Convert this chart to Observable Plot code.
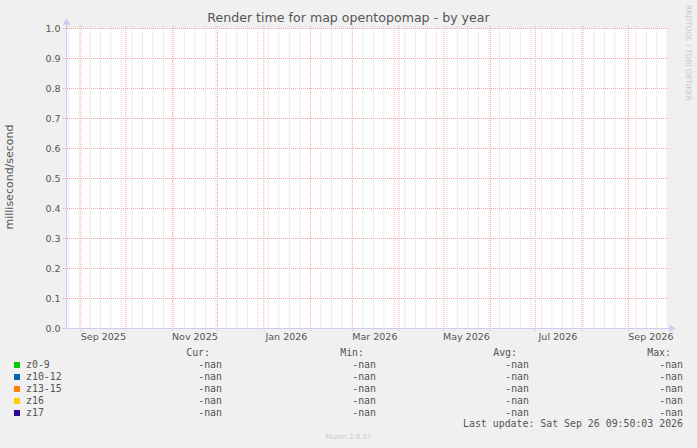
<!DOCTYPE html>
<html>
<head>
<meta charset="utf-8">
<script src="https://cdn.jsdelivr.net/npm/d3@7"></script>
<script src="https://cdn.jsdelivr.net/npm/@observablehq/plot@0.6"></script>
<style>
  html, body { margin: 0; padding: 0; background: #f0f0f0; }
  #wrap { position: relative; width: 697px; height: 448px; background: #f0f0f0; overflow: hidden; font-family: "DejaVu Sans", sans-serif; color: #555; }
  #chart { position: absolute; left: 0; top: 0; }
  .abs { position: absolute; white-space: pre; }
  .mono { font-family: "DejaVu Sans Mono", monospace; font-size: 9.9px; line-height: 12px; color: #555; }
</style>
</head>
<body>
<div id="wrap"></div>
<script>
// ---- data ----
const title = "Render time for map opentopomap - by year";
const yLabel = "millisecond/second";
const seriesNames = ["z0-9", "z10-12", "z13-15", "z16", "z17"];
const seriesColors = ["#00cc00", "#0066b3", "#ff8000", "#ffcc00", "#330099"];
const curValues = ["-nan", "-nan", "-nan", "-nan", "-nan"];
const minValues = ["-nan", "-nan", "-nan", "-nan", "-nan"];
const avgValues = ["-nan", "-nan", "-nan", "-nan", "-nan"];
const maxValues = ["-nan", "-nan", "-nan", "-nan", "-nan"];
const seriesPoints = [[], [], [], [], []]; // all values are NaN (no data)
const yTicks = [0, 0.1, 0.2, 0.3, 0.4, 0.5, 0.6, 0.7, 0.8, 0.9, 1.0];
const xLabelMonths = ["2025-09", "2025-11", "2026-01", "2026-03", "2026-05", "2026-07", "2026-09"];
const lastUpdate = "Last update: Sat Sep 26 09:50:03 2026";
const endTime = new Date("2026-09-26T09:50:03Z");
const spanDays = 400;
const credit = "RRDTOOL / TOBI OETIKER";
const version = "Munin 2.0.57";

// ---- derived ----
const startTime = new Date(+endTime - spanDays * 864e5);
const weekLines = d3.utcSunday.range(startTime, endTime);
const monthLines = d3.utcMonth.range(startTime, endTime);
const labelDates = xLabelMonths.map(m => d3.utcDay.offset(new Date(m + "-01T00:00:00Z"), 15));
const axisCol = "#c9cdf4";
const majorCol = "#f5a3a3";
const minorCol = "#d6d6d6";

const chart = Plot.plot({
  width: 697,
  height: 348,
  marginLeft: 66,
  marginRight: 31,
  marginTop: 28,
  marginBottom: 20,
  style: { background: "transparent", fontFamily: "DejaVu Sans", fontSize: "9.5px", color: "#555", overflow: "visible" },
  x: { type: "utc", domain: [startTime, endTime] },
  y: { domain: [0, 1] },
  marks: [
    Plot.frame({ fill: "white", stroke: "none" }),
    Plot.ruleX(weekLines, { stroke: minorCol, strokeDasharray: "1,1", insetTop: -2 }),
    Plot.ruleX(monthLines, { stroke: majorCol, strokeDasharray: "1,1", insetTop: -2, insetBottom: -3 }),
    Plot.ruleY(yTicks, { stroke: majorCol, strokeDasharray: "1,1", insetLeft: -3, insetRight: -2 }),
    ...seriesPoints.map((pts, i) => Plot.lineY(pts, { x: "date", y: "value", stroke: seriesColors[i] })),
    // axis lines with arrows
    Plot.ruleX([startTime], { stroke: axisCol, insetTop: -4 }),
    Plot.ruleY([0], { stroke: axisCol, insetRight: -4 }),
    Plot.dot([startTime], { x: d => d, y: () => 1, symbol: "triangle", r: 2.8, fill: axisCol, stroke: "none", dy: -6 }),
    Plot.dot([endTime], { x: d => d, y: () => 0, symbol: "triangle", r: 2.8, fill: axisCol, stroke: "none", dx: 5, rotate: 90 }),
    Plot.axisX(labelDates, { tickSize: 0, tickPadding: 5, tickFormat: d3.utcFormat("%b %Y"), fill: "#555", fontSize: 9.5 }),
    Plot.axisY(yTicks, { tickSize: 0, tickPadding: 6, tickFormat: d3.format(".1f"), fill: "#555", fontSize: 9.5, label: null })
  ]
});
chart.id = "chart";
const wrap = document.getElementById("wrap");
wrap.appendChild(chart);

function add(text, css, cls) {
  const d = document.createElement("div");
  d.className = "abs" + (cls ? " " + cls : "");
  d.textContent = text;
  Object.assign(d.style, css);
  wrap.appendChild(d);
  return d;
}

// title
add(title, { left: "0px", width: "697px", textAlign: "center", top: "10px", fontSize: "12.6px", lineHeight: "16px", color: "#555" });
// y label
add(yLabel, { left: "10px", top: "177px", fontSize: "11px", lineHeight: "12px", color: "#555", transform: "translate(-50%,-50%) rotate(-90deg)" });
// credit
add(credit, { left: "688px", top: "53px", fontSize: "7.45px", lineHeight: "8px", color: "#c8c8c8", transform: "translate(-50%,-50%) rotate(90deg)" });
// version
add(version, { left: "0px", width: "697px", textAlign: "center", top: "432px", fontSize: "7px", lineHeight: "10px", color: "#c8c8c8" });

// legend headers
const colRight = [222, 376, 529, 683];
const headers = ["Cur:", "Min:", "Avg:", "Max:"];
headers.forEach((h, j) => add(h, { right: (697 - colRight[j] + 12) + "px", top: "347px", textAlign: "right" }, "mono"));
const cols = [curValues, minValues, avgValues, maxValues];
seriesNames.forEach((name, i) => {
  const cy = 365 + 11.9 * i;
  const sw = document.createElement("div");
  Object.assign(sw.style, { position: "absolute", left: "14px", top: (cy - 3) + "px", width: "6px", height: "6px", background: seriesColors[i] });
  wrap.appendChild(sw);
  add(name, { left: "26px", top: (cy - 6) + "px" }, "mono");
  cols.forEach((c, j) => add(c[i], { right: (697 - colRight[j]) + "px", top: (cy - 6) + "px", textAlign: "right" }, "mono"));
});
add(lastUpdate, { right: (697 - 683) + "px", top: "418px", textAlign: "right" }, "mono");
</script>
</body>
</html>
